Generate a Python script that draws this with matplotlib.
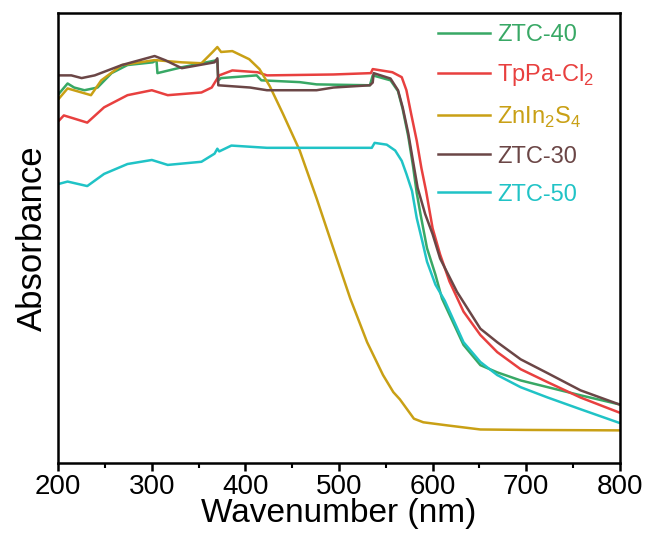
import matplotlib
matplotlib.use("Agg")
import matplotlib.pyplot as plt
from matplotlib.ticker import MultipleLocator

plt.rcParams['font.family'] = ['Liberation Sans', 'DejaVu Sans']
plt.rcParams['mathtext.fontset'] = 'custom'
plt.rcParams['mathtext.rm'] = 'Liberation Sans'

# ZTC-40
wl_40 = [201, 210, 217, 228, 242, 257, 274, 301, 305, 306, 332, 370, 371, 374, 412, 417,
         458, 476, 533, 536, 555, 563, 568, 574, 579, 583, 587, 594, 603, 610, 633, 651,
         669, 694, 723, 758, 799]
ab_40 = [0.821, 0.843, 0.834, 0.828, 0.834, 0.866, 0.884, 0.890, 0.895, 0.866, 0.879, 0.895,
         0.850, 0.855, 0.861, 0.850, 0.846, 0.841, 0.839, 0.861, 0.850, 0.826, 0.786, 0.725,
         0.660, 0.600, 0.553, 0.477, 0.418, 0.365, 0.262, 0.217, 0.201, 0.183, 0.168, 0.150,
         0.130]

# TpPa-Cl2
wl_cl = [201, 206, 217, 231, 249, 274, 300, 317, 353, 364, 372, 386, 413, 423, 494, 534,
         536, 557, 567, 572, 577, 583, 588, 593, 600, 608, 618, 633, 651, 669, 694, 723,
         758, 799]
ab_cl = [0.761, 0.772, 0.765, 0.756, 0.790, 0.817, 0.828, 0.817, 0.823, 0.834, 0.861, 0.872,
         0.868, 0.861, 0.863, 0.866, 0.875, 0.868, 0.857, 0.828, 0.776, 0.716, 0.655, 0.604,
         0.521, 0.463, 0.403, 0.336, 0.284, 0.246, 0.208, 0.179, 0.145, 0.112]

# ZnIn2S4
wl_zis = [201, 210, 225, 235, 246, 268, 303, 332, 353, 365, 370, 374, 386, 404, 415, 426,
          440, 458, 476, 494, 512, 530, 547, 558, 565, 580, 590, 616, 651, 700, 800]
ab_zis = [0.810, 0.832, 0.823, 0.817, 0.850, 0.884, 0.895, 0.890, 0.888, 0.913, 0.924, 0.913,
          0.915, 0.897, 0.875, 0.837, 0.776, 0.694, 0.588, 0.476, 0.365, 0.268, 0.195, 0.157,
          0.141, 0.098, 0.090, 0.083, 0.074, 0.073, 0.072]

# ZTC-30
wl_30 = [201, 214, 225, 239, 268, 303, 314, 332, 367, 370, 371, 405, 423, 476, 494, 533,
         536, 537, 555, 563, 568, 574, 579, 584, 592, 600, 608, 626, 651, 669, 694, 723,
         758, 799]
ab_30 = [0.861, 0.861, 0.855, 0.861, 0.884, 0.904, 0.895, 0.877, 0.890, 0.899, 0.839, 0.834,
         0.828, 0.828, 0.834, 0.839, 0.845, 0.866, 0.854, 0.828, 0.790, 0.732, 0.671, 0.611,
         0.553, 0.508, 0.454, 0.380, 0.298, 0.268, 0.230, 0.199, 0.161, 0.130]

# ZTC-50
wl_50 = [201, 210, 231, 249, 274, 300, 317, 353, 367, 370, 372, 385, 423, 522, 535, 538,
         551, 560, 567, 572, 578, 583, 589, 594, 603, 613, 633, 651, 669, 694, 723, 758,
         799]
ab_50 = [0.620, 0.625, 0.615, 0.642, 0.664, 0.673, 0.662, 0.669, 0.687, 0.698, 0.692, 0.705,
         0.700, 0.700, 0.700, 0.711, 0.707, 0.694, 0.671, 0.642, 0.604, 0.544, 0.492, 0.447,
         0.396, 0.360, 0.268, 0.224, 0.195, 0.168, 0.145, 0.119, 0.089]

labels = ['ZTC-40', 'TpPa-Cl$_2$', 'ZnIn$_2$S$_4$', 'ZTC-30', 'ZTC-50']
colors = ['#38a865', '#e8403f', '#c9a015', '#6b4646', '#20c3c6']

fig = plt.figure(figsize=(6.47, 5.35), dpi=100)
ax = fig.add_axes([0.090, 0.135, 0.868, 0.841])

series = [(wl_40, ab_40), (wl_cl, ab_cl), (wl_zis, ab_zis), (wl_30, ab_30), (wl_50, ab_50)]
for (x, y), lab, c in zip(series, labels, colors):
    ax.plot(x, y, color=c, lw=1.8, label=lab)

ax.set_xlim(200, 800)
ax.set_ylim(0, 1)
ax.xaxis.set_major_locator(MultipleLocator(100))
ax.xaxis.set_minor_locator(MultipleLocator(50))
ax.tick_params(axis='x', which='major', direction='out', length=6, width=1.8, labelsize=20, pad=2)
ax.tick_params(axis='x', which='minor', direction='out', length=3.5, width=1.5)
ax.set_yticks([])
for s in ax.spines.values():
    s.set_linewidth(1.8)

ax.set_xlabel('Wavenumber (nm)', fontsize=24, labelpad=-1)
ax.set_ylabel('Absorbance', fontsize=25, labelpad=7)

leg = ax.legend(loc='upper left', bbox_to_anchor=(0.639, 1.022), frameon=False, fontsize=17,
                handlelength=2.2, handletextpad=0.3, labelspacing=0.68)
for txt, c in zip(leg.get_texts(), colors):
    txt.set_color(c)

fig.savefig('out.png', dpi=100)
